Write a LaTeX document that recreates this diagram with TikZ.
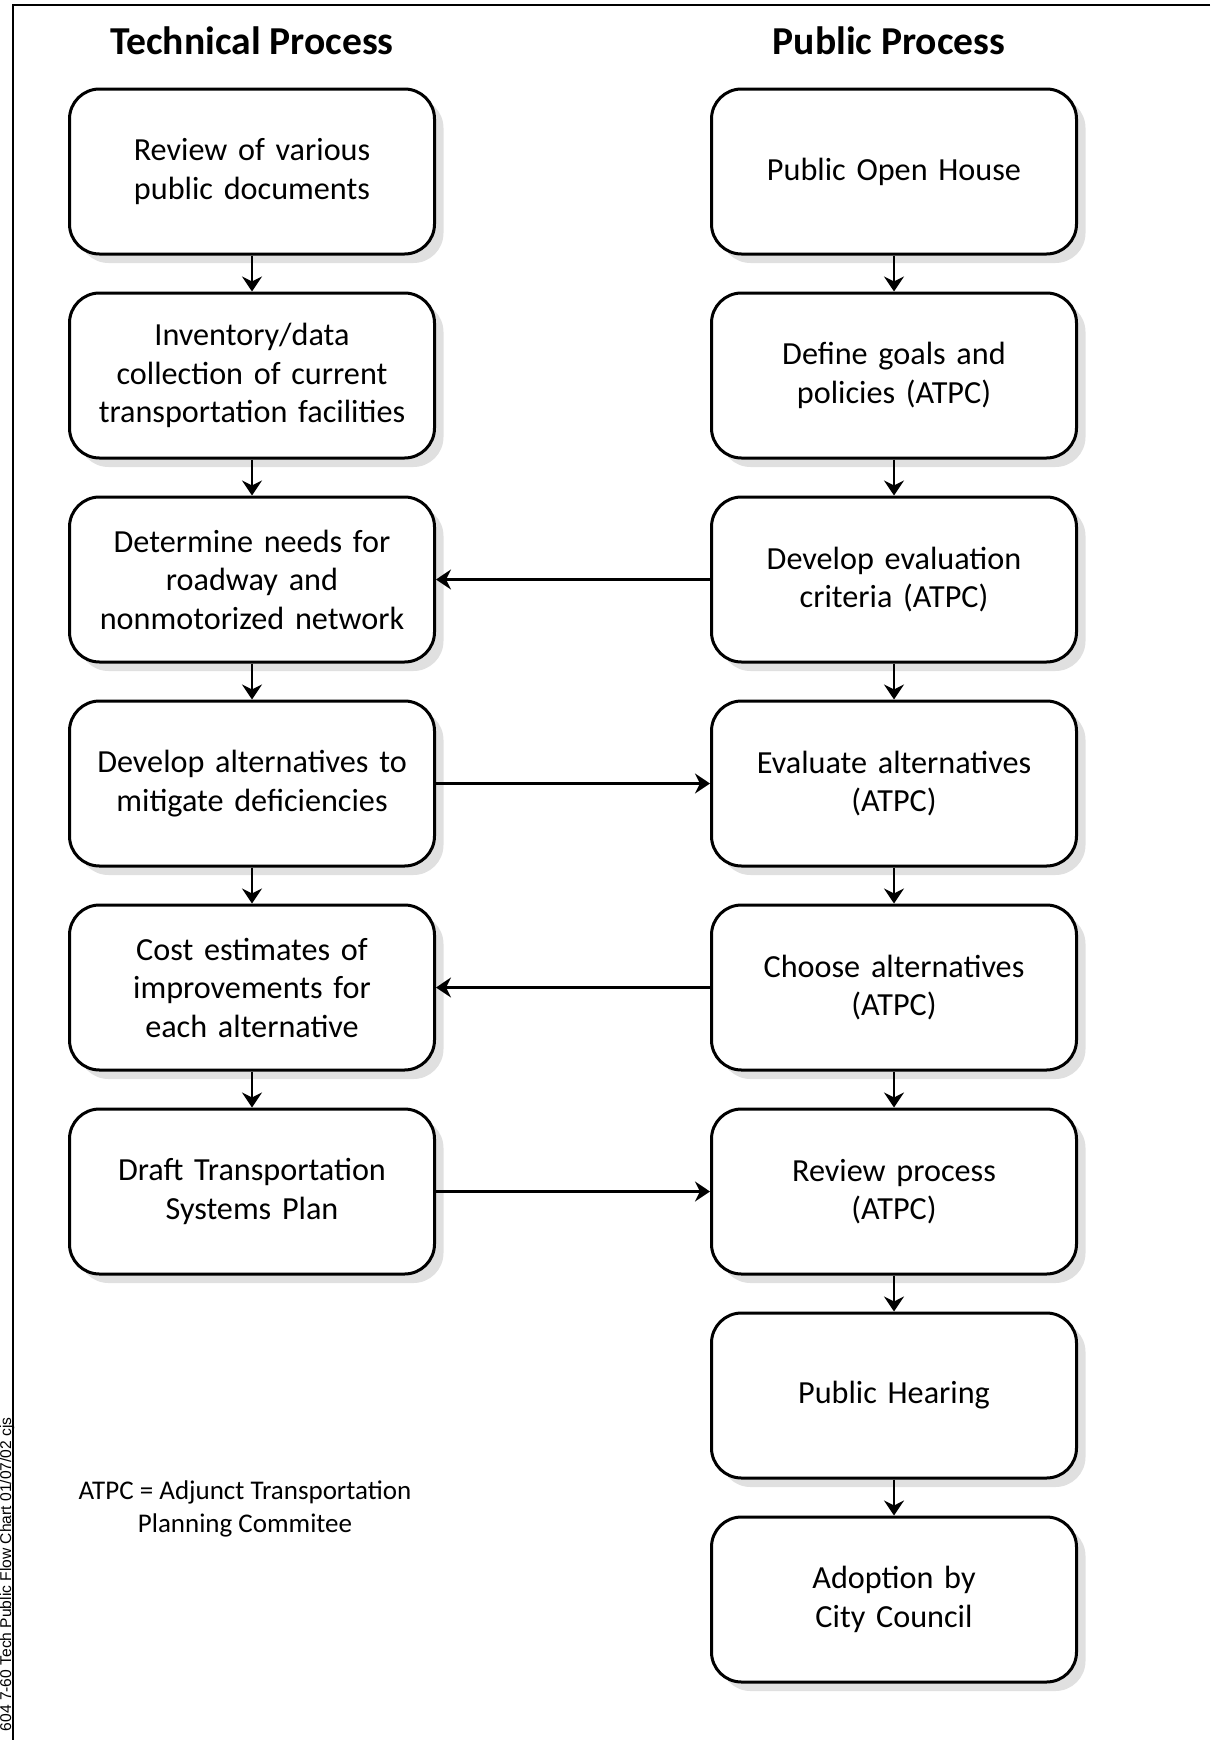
\documentclass[tikz,border=0pt]{standalone}
\usepackage{fontspec}
\setmainfont{Carlito}
\newfontfamily\stampfont{Liberation Sans}
\usetikzlibrary{positioning, arrows.meta, shadows}
\tikzstyle{procbox} = [rectangle, draw, line width=1.5pt, fill=white, rounded corners=15pt, text width=176pt, inner sep=3.25pt, minimum height=82.5pt, text centered, node distance=18pt, font=\fontsize{16.1}{19.25}\selectfont, drop shadow={shadow xshift=4.5pt, shadow yshift=-4.5pt, fill=black!30, opacity=0.4}]
\tikzstyle{heading} = [inner sep=0pt, font=\fontsize{19.8}{24}\selectfont\bfseries]
\tikzstyle{note} = [inner sep=0pt, align=center, font=\fontsize{13.5}{16.5}\selectfont]
\tikzstyle{stamp} = [inner sep=0pt, rotate=90, font=\stampfont\fontsize{7.8}{9}\selectfont]
\tikzstyle{line} = [draw, line width=1.2pt, -{Stealth[length=7.5pt, width=10pt, inset=2.5pt]}]
\tikzstyle{frame} = [draw, line width=1.2pt]

\begin{document}
\begin{tikzpicture}
\useasboundingbox (0,0) rectangle (605pt,-870pt);
\coordinate (frametop) at (605pt,-2.5pt);
\coordinate (framebot) at (6.5pt,-870pt);
\path[frame] (frametop) -| (framebot);
\node [stamp, anchor=base east] (chartid) at (5.5pt,-708.5pt) {604 7-60 Tech Public Flow Chart 01/07/02 cjs};
\node [procbox] (review) at (126pt,-85.75pt) {Review of various\\public documents};
\node [procbox, below = of review] (inventory) {Inventory/data\\collection of current\\transportation facilities};
\node [procbox, below = of inventory] (needs) {Determine needs for\\roadway and\\nonmotorized network};
\node [procbox, below = of needs] (altdev) {Develop alternatives to\\mitigate deficiencies};
\node [procbox, below = of altdev] (cost) {Cost estimates of\\improvements for\\each alternative};
\node [procbox, below = of cost] (draft) {Draft Transportation\\Systems Plan};
\node [procbox, right = 137pt of review] (openhouse) {Public Open House};
\node [procbox, below = of openhouse] (goals) {Define goals and\\policies (ATPC)};
\node [procbox, below = of goals] (criteria) {Develop evaluation\\criteria (ATPC)};
\node [procbox, below = of criteria] (evalalt) {Evaluate alternatives\\(ATPC)};
\node [procbox, below = of evalalt] (choosealt) {Choose alternatives\\(ATPC)};
\node [procbox, below = of choosealt] (reviewproc) {Review process\\(ATPC)};
\node [procbox, below = of reviewproc] (hearing) {Public Hearing};
\node [procbox, below = of hearing] (adoption) {Adoption by\\City Council};
\node [heading, above = 16.5pt of review.north, anchor=base] (techhead) {Technical Process};
\node [heading, above = 16.5pt of openhouse.north, anchor=base, xshift=-2.5pt] (pubhead) {Public Process};
\node [note, below = 116.5pt of draft.south, anchor=center, xshift=-3.5pt] (atpc) {ATPC = Adjunct Transportation\\Planning Commitee};
\path[line] (review) -- (inventory);
\path[line] (inventory) -- (needs);
\path[line] (needs) -- (altdev);
\path[line] (altdev) -- (cost);
\path[line] (cost) -- (draft);
\path[line] (openhouse) -- (goals);
\path[line] (goals) -- (criteria);
\path[line] (criteria) -- (evalalt);
\path[line] (evalalt) -- (choosealt);
\path[line] (choosealt) -- (reviewproc);
\path[line] (reviewproc) -- (hearing);
\path[line] (hearing) -- (adoption);
\path[line] (criteria) -- (needs);
\path[line] (altdev) -- (evalalt);
\path[line] (choosealt) -- (cost);
\path[line] (draft) -- (reviewproc);
\end{tikzpicture}
\end{document}
